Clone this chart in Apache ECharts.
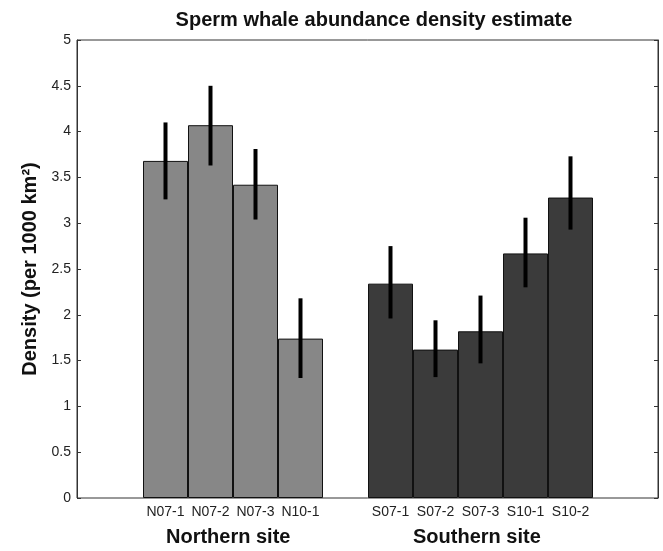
<!DOCTYPE html>
<html>
<head>
<meta charset="utf-8">
<script src="https://cdn.jsdelivr.net/npm/echarts@6/dist/echarts.min.js"></script>
<style>
  html, body { margin: 0; padding: 0; background: #fff; }
  #c_container { width: 663px; height: 551px; }
</style>
</head>
<body>
<div id="c_container"></div>
<script>
// survey blocks, empty slot separates the two sites
var categories = ["N07-1", "N07-2", "N07-3", "N10-1", "", "S07-1", "S07-2", "S07-3", "S10-1", "S10-2"];
var density = [3.68, 4.07, 3.42, 1.74, null, 2.34, 1.62, 1.82, 2.67, 3.28];
var errLow = [3.26, 3.63, 3.04, 1.31, null, 1.96, 1.32, 1.47, 2.30, 2.93];
var errHigh = [4.10, 4.50, 3.81, 2.18, null, 2.75, 1.94, 2.21, 3.06, 3.73];
var siteNames = ["Northern site", "Southern site"];
var colorList = ["#878787", "#3b3b3b"];
var font = "Liberation Sans, Arial, sans-serif";

var errData = [];
for (var k = 0; k < categories.length; k++) {
  if (density[k] != null) errData.push([k, errLow[k], errHigh[k]]);
}

var myChart = echarts.init(document.getElementById("c_container"));
myChart.setOption({
  backgroundColor: "#fff",
  animation: false,
  title: {
    text: "Sperm whale abundance density estimate",
    left: 369,
    textAlign: "center",
    top: 5,
    textStyle: { fontFamily: font, fontSize: 20, fontWeight: "bold", color: "#111" },
  },
  grid: [
    { left: 77, right: 5, top: 40, bottom: 53, show: true, borderColor: "#333", borderWidth: 1 },
    { left: 143, right: 70, top: 40, bottom: 53 },
  ],
  xAxis: [
    { gridIndex: 0, type: "value", min: 0, max: 1, show: false },
    {
      gridIndex: 1,
      type: "category",
      data: categories,
      axisLine: { show: false },
      axisTick: { show: false },
      axisLabel: { interval: 0, color: "#222", fontSize: 14, fontFamily: font, margin: 7 },
    },
  ],
  yAxis: [
    {
      gridIndex: 0,
      type: "value",
      min: 0,
      max: 5,
      interval: 0.5,
      name: "Density (per 1000 km²)",
      nameLocation: "middle",
      nameGap: 37,
      nameTextStyle: { fontFamily: font, fontSize: 20, fontWeight: "bold", color: "#111" },
      axisLine: { show: true, lineStyle: { color: "#333" } },
      axisTick: { show: true, inside: true, length: 4, lineStyle: { color: "#333" } },
      axisLabel: { color: "#222", fontSize: 14, fontFamily: font, margin: 6 },
      splitLine: { show: false },
    },
    {
      gridIndex: 0,
      type: "value",
      position: "right",
      min: 0,
      max: 5,
      interval: 0.5,
      axisLine: { show: true, lineStyle: { color: "#333" } },
      axisTick: { show: true, inside: true, length: 4, lineStyle: { color: "#333" } },
      axisLabel: { show: false },
      splitLine: { show: false },
    },
    { gridIndex: 1, type: "value", min: 0, max: 5, show: false },
  ],
  series: [
    {
      type: "bar",
      xAxisIndex: 1,
      yAxisIndex: 2,
      barWidth: "100%",
      data: density,
      itemStyle: {
        color: function (params) {
          return params.dataIndex < 4 ? colorList[0] : colorList[1];
        },
        borderColor: "#111",
        borderWidth: 1,
      },
    },
    {
      type: "custom",
      xAxisIndex: 1,
      yAxisIndex: 2,
      data: errData,
      renderItem: function (params, api) {
        var p1 = api.coord([api.value(0), api.value(1)]);
        var p2 = api.coord([api.value(0), api.value(2)]);
        return {
          type: "line",
          shape: { x1: p1[0], y1: p1[1], x2: p2[0], y2: p2[1] },
          style: { stroke: "#000", lineWidth: 4 },
        };
      },
      z: 5,
    },
  ],
  graphic: [
    {
      type: "text",
      left: 166,
      top: 527,
      style: { text: siteNames[0], fontFamily: font, fontSize: 20, fontWeight: "bold", fill: "#111" },
    },
    {
      type: "text",
      left: 413,
      top: 527,
      style: { text: siteNames[1], fontFamily: font, fontSize: 20, fontWeight: "bold", fill: "#111" },
    },
  ],
});
</script>
</body>
</html>
